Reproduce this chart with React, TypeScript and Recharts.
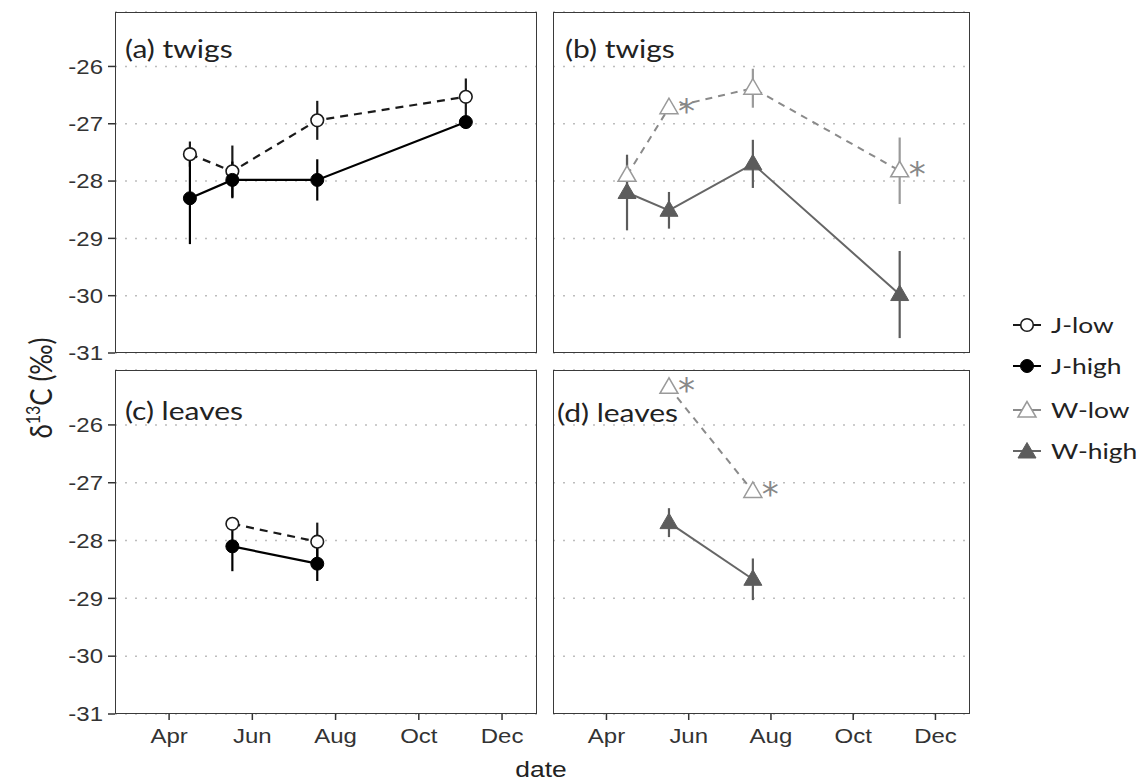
import React from 'react';
import { ComposedChart, Line, XAxis, YAxis, CartesianGrid, ErrorBar, LabelList } from 'recharts';

// sampling dates as month of year (4 = 1 Apr)
const twigDates = [4.5, 5.52, 7.56, 11.13];
const leafDates = [5.52, 7.56];

const monthTicks = [4, 6, 8, 10, 12];
const monthNames = ['Apr', 'Jun', 'Aug', 'Oct', 'Dec'];
const yTicks = [-31, -30, -29, -28, -27, -26];

// twigs
const jLowTwigs = [-27.53, -27.83, -26.94, -26.53];
const jLowTwigsSe = [0.22, 0.45, 0.34, 0.32];
const jHighTwigs = [-28.3, -27.98, -27.98, -26.97];
const jHighTwigsSe = [0.8, 0.32, 0.36, 0.12];
const wLowTwigs = [-27.9, -26.72, -26.38, -27.82];
const wLowTwigsSe = [0.3, 0.1, 0.34, 0.58];
const wLowTwigsSig = [0, 1, 0, 1];
const wHighTwigs = [-28.2, -28.51, -27.7, -29.98];
const wHighTwigsSe = [0.66, 0.32, 0.42, 0.76];

// leaves
const jLowLeaves = [-27.71, -28.02];
const jLowLeavesSe = [0.1, 0.33];
const jHighLeaves = [-28.1, -28.4];
const jHighLeavesSe = [0.43, 0.3];
const wLowLeaves = [-25.35, -27.15];
const wLowLeavesSe = [0.05, 0.08];
const wLowLeavesSig = [1, 1];
const wHighLeaves = [-27.69, -28.67];
const wHighLeavesSe = [0.25, 0.36];

const twigData = twigDates.map((x, i) => ({
  x,
  jLow: jLowTwigs[i], jLowErr: jLowTwigsSe[i],
  jHigh: jHighTwigs[i], jHighErr: jHighTwigsSe[i],
  wLow: wLowTwigs[i], wLowErr: wLowTwigsSe[i], wLowSig: wLowTwigsSig[i],
  wHigh: wHighTwigs[i], wHighErr: wHighTwigsSe[i],
}));

const leafData = leafDates.map((x, i) => ({
  x,
  jLow: jLowLeaves[i], jLowErr: jLowLeavesSe[i],
  jHigh: jHighLeaves[i], jHighErr: jHighLeavesSe[i],
  wLow: wLowLeaves[i], wLowErr: wLowLeavesSe[i], wLowSig: wLowLeavesSig[i],
  wHigh: wHighLeaves[i], wHighErr: wHighLeavesSe[i],
}));

const X_DOMAIN: [number, number] = [2.7, 12.84];
const Y_DOMAIN: [number, number] = [-31, -25.05];
const STRETCH = 1.2;
const TICK_FONT = '"Liberation Sans", Arial, sans-serif';
const LABEL_FONT = 'Lato, "Open Sans", sans-serif';

type Marker = 'openCircle' | 'filledCircle' | 'openTri' | 'filledTri';

interface SeriesDef {
  key: string;
  name: string;
  stroke: string;
  dash?: string;
  width: number;
  marker: Marker;
  markerColor: string;
  sig?: boolean;
}

const J_SERIES: SeriesDef[] = [
  { key: 'jLow', name: 'J-low', stroke: '#1a1a1a', dash: '8 6', width: 2.2, marker: 'openCircle', markerColor: '#1a1a1a' },
  { key: 'jHigh', name: 'J-high', stroke: '#000', width: 2.2, marker: 'filledCircle', markerColor: '#000' },
];
const W_SERIES: SeriesDef[] = [
  { key: 'wLow', name: 'W-low', stroke: '#8a8a8a', dash: '7 6', width: 2, marker: 'openTri', markerColor: '#9a9a9a', sig: true },
  { key: 'wHigh', name: 'W-high', stroke: '#666', width: 2, marker: 'filledTri', markerColor: '#5c5c5c' },
];

function drawMarker(kind: Marker, color: string, cx: number, cy: number, key?: string) {
  if (cx == null || cy == null) return <g key={key} />;
  if (kind === 'openCircle')
    return <circle key={key} cx={cx} cy={cy} r={6.3} fill="#fff" stroke={color} strokeWidth={1.6} />;
  if (kind === 'filledCircle')
    return <circle key={key} cx={cx} cy={cy} r={6.5} fill={color} stroke={color} strokeWidth={1} />;
  const pts = `${cx},${cy - 9.5} ${cx - 9},${cy + 6} ${cx + 9},${cy + 6}`;
  if (kind === 'openTri')
    return <polygon key={key} points={pts} fill="#fff" stroke={color} strokeWidth={1.5} />;
  return <polygon key={key} points={pts} fill={color} stroke={color} strokeWidth={1} />;
}

const renderStar = (props: any) => {
  const { x, y, value, index } = props;
  if (!value) return null;
  return (
    <text key={`star-${index}`} x={x + 9} y={y + 15} fontSize={34} fill="#888" fontFamily='"DejaVu Sans", sans-serif'>
      *
    </text>
  );
};

const YTick = (props: any) => {
  const { x, y, payload } = props;
  return (
    <g transform={`translate(${x},${y}) scale(${STRETCH},1)`}>
      <text x={0} y={0} dy="0.36em" textAnchor="end" fontFamily={TICK_FONT} fontSize={20} fill="#333">
        {payload.value}
      </text>
    </g>
  );
};

const XTick = (props: any) => {
  const { x, y, payload } = props;
  return (
    <g transform={`translate(${x},${y}) scale(${STRETCH},1)`}>
      <text x={0} y={0} dy="0.71em" textAnchor="middle" fontFamily={TICK_FONT} fontSize={20} fill="#333">
        {monthNames[monthTicks.indexOf(payload.value)]}
      </text>
    </g>
  );
};

interface PanelProps {
  left: number;
  top: number;
  width: number;
  height: number;
  showY: boolean;
  showX: boolean;
  data: any[];
  series: SeriesDef[];
  label: string;
  labelX: number;
  labelY: number;
}

function Panel({ left, top, width, height, showY, showX, data, series, label, labelX, labelY }: PanelProps) {
  const yW = showY ? 62 : 0;
  const xH = showX ? 40 : 0;
  const mTop = 10;
  const mRight = 6;
  const mBottom = showX ? 20 : 16;
  return (
    <>
      <div style={{ position: 'absolute', left: left - yW, top: top - mTop }}>
        <ComposedChart
          width={yW + width + mRight}
          height={mTop + height + xH + mBottom}
          data={data}
          margin={{ top: mTop, right: mRight, bottom: mBottom, left: 0 }}
          style={{ overflow: 'visible' }}
        >
          <CartesianGrid vertical={false} stroke="#bdbdbd" strokeDasharray="2 8" strokeWidth={1.5} />
          <XAxis
            dataKey="x"
            type="number"
            domain={X_DOMAIN}
            ticks={monthTicks}
            allowDataOverflow
            hide={!showX}
            height={xH}
            axisLine={false}
            tickLine={{ stroke: '#333', strokeWidth: 1.5 }}
            tickSize={6}
            tickMargin={9}
            tick={<XTick />}
          />
          <YAxis
            type="number"
            domain={Y_DOMAIN}
            ticks={yTicks}
            allowDataOverflow
            hide={!showY}
            width={yW}
            axisLine={false}
            tickLine={{ stroke: '#333', strokeWidth: 1.5 }}
            tickSize={7}
            tickMargin={5}
            tick={<YTick />}
          />
          {series.map((s) => (
            <Line
              key={s.key}
              dataKey={s.key}
              type="linear"
              stroke={s.stroke}
              strokeWidth={s.width}
              strokeDasharray={s.dash}
              isAnimationActive={false}
              activeDot={false}
              dot={(p: any) => drawMarker(s.marker, s.markerColor, p.cx, p.cy, `${s.key}-${p.index}`)}
            >
              <ErrorBar dataKey={`${s.key}Err`} direction="y" width={0} stroke={s.markerColor} strokeWidth={2.2} />
              {s.sig && <LabelList dataKey={`${s.key}Sig`} content={renderStar} />}
            </Line>
          ))}
        </ComposedChart>
      </div>
      <div
        style={{
          position: 'absolute',
          left,
          top,
          width,
          height,
          boxSizing: 'border-box',
          border: '1.5px solid #3a3a3a',
          pointerEvents: 'none',
        }}
      />
      <div
        style={{
          position: 'absolute',
          left: labelX,
          top: labelY,
          fontFamily: LABEL_FONT,
          fontSize: 25,
          lineHeight: '25px',
          color: '#222',
          whiteSpace: 'nowrap',
          transform: `scaleX(${STRETCH})`,
          transformOrigin: 'left center',
        }}
      >
        {label}
      </div>
    </>
  );
}

function LegendBox() {
  const entries = [...J_SERIES, ...W_SERIES];
  const rows = [20, 61, 105, 146];
  return (
    <svg width={139} height={170} style={{ position: 'absolute', left: 1005, top: 305 }}>
      {entries.map((s, i) => (
        <g key={s.key}>
          <line x1={8} x2={36} y1={rows[i]} y2={rows[i]} stroke={s.stroke} strokeWidth={2} />
          {drawMarker(s.marker, s.markerColor, 22, rows[i] + (s.marker.includes('Tri') ? 1 : 0))}
          <g transform={`translate(46,${rows[i]}) scale(${STRETCH},1)`}>
            <text x={0} y={0} dy="0.36em" fontFamily={LABEL_FONT} fontSize={22} fill="#222">
              {s.name}
            </text>
          </g>
        </g>
      ))}
    </svg>
  );
}

export default function App() {
  return (
    <div style={{ position: 'absolute', left: 0, top: 0, width: 1144, height: 783, background: '#fff', overflow: 'hidden' }}>
      <Panel left={115} top={12} width={422} height={341} showY showX={false} data={twigData} series={J_SERIES} label="(a) twigs" labelX={125} labelY={36} />
      <Panel left={553} top={12} width={417} height={341} showY={false} showX={false} data={twigData} series={W_SERIES} label="(b) twigs" labelX={565} labelY={36} />
      <Panel left={115} top={370} width={422} height={344} showY showX data={leafData} series={J_SERIES} label="(c) leaves" labelX={125} labelY={398} />
      <Panel left={553} top={370} width={417} height={344} showY={false} showX data={leafData} series={W_SERIES} label="(d) leaves" labelX={557} labelY={400} />
      <svg width={1144} height={783} style={{ position: 'absolute', left: 0, top: 0, pointerEvents: 'none' }}>
        <g transform={`translate(52,388) scale(${STRETCH},1) rotate(-90)`}>
          <text x={0} y={0} textAnchor="middle" fontFamily={LABEL_FONT} fontSize={26} fill="#222">
            δ<tspan dy={-10} fontSize={16}>13</tspan>
            <tspan dy={10} fontSize={26}>C (‰)</tspan>
          </text>
        </g>
        <g transform={`translate(541,777) scale(${STRETCH},1)`}>
          <text x={0} y={0} textAnchor="middle" fontFamily={TICK_FONT} fontSize={22} fill="#222">
            date
          </text>
        </g>
      </svg>
      <LegendBox />
    </div>
  );
}
